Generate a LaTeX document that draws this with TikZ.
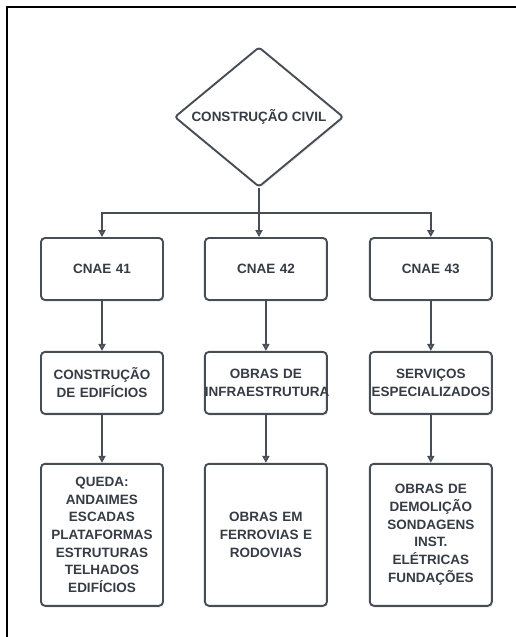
\documentclass[tikz,border=0pt]{standalone}
\usepackage{fontspec}
\setmainfont{Liberation Sans}
\usepackage{xcolor}
\usepackage{tikz}
\usetikzlibrary{shapes.geometric, arrows.meta, positioning, shadows}

\definecolor{linegray}{HTML}{474D55}
\definecolor{textgray}{HTML}{363C44}

\begin{document}
\begin{tikzpicture}[
    x=1pt, y=1pt,
    node distance=40pt,
    every node/.style={font=\fontsize{13.5}{17.7}\selectfont\bfseries, text=textgray},
    topic/.style={diamond, draw=linegray, line width=1.9pt, rounded corners=3pt, aspect=1.2, minimum width=169pt, minimum height=140pt, inner sep=0pt, fill=white, drop shadow={opacity=0.12, shadow xshift=1pt, shadow yshift=-2pt}},
    box/.style={rectangle, draw=linegray, line width=1.9pt, rounded corners=4pt, text width=122pt, inner xsep=0pt, align=center, minimum height=62pt, fill=white, drop shadow={opacity=0.12, shadow xshift=1pt, shadow yshift=-2pt}},
    tallbox/.style={box, minimum height=142pt},
    arr/.style={-{Triangle[width=7pt, length=7pt, fill=gray!55]}, draw=linegray, line width=1.9pt},
    link/.style={draw=linegray, line width=1.9pt}
]
\useasboundingbox (0,0) rectangle (516,-637);

% frame
\draw[line width=2pt] (7,-637) -- (7,-7) -- (516,-7);

\node[topic] (civil) at (259,-117) {CONSTRUÇÃO CIVIL};

\node[box] (cnae41) at (102,-269) {CNAE 41};
\node[box, right=40pt of cnae41] (cnae42) {CNAE 42};
\node[box, right=41pt of cnae42] (cnae43) {CNAE 43};

\node[box, below=50pt of cnae41] (edif) {CONSTRUÇÃO\\DE EDIFÍCIOS};
\node[box, below=50pt of cnae42] (infra) {OBRAS DE\\INFRAESTRUTURA};
\node[box, below=50pt of cnae43] (serv) {SERVIÇOS\\ESPECIALIZADOS};

\node[tallbox, below=48pt of edif] (queda) {QUEDA:\\ANDAIMES\\ESCADAS\\PLATAFORMAS\\ESTRUTURAS\\TELHADOS\\EDIFÍCIOS};
\node[tallbox, below=48pt of infra] (ferro) {OBRAS EM\\FERROVIAS E\\RODOVIAS};
\node[tallbox, below=48pt of serv] (demol) {OBRAS DE\\DEMOLIÇÃO\\SONDAGENS\\INST.\\ELÉTRICAS\\FUNDAÇÕES};

\draw[link] (civil.south) -- ++(0,-25) coordinate (bus);
\draw[arr] (bus) -| (cnae41.north);
\draw[arr] (bus) -| (cnae43.north);
\draw[arr] (bus) -- (bus |- cnae42.north);

\draw[arr] (cnae41) -- (edif);
\draw[arr] (cnae42) -- (infra);
\draw[arr] (cnae43) -- (serv);
\draw[arr] (edif) -- (queda);
\draw[arr] (infra) -- (ferro);
\draw[arr] (serv) -- (demol);

\end{tikzpicture}
\end{document}
